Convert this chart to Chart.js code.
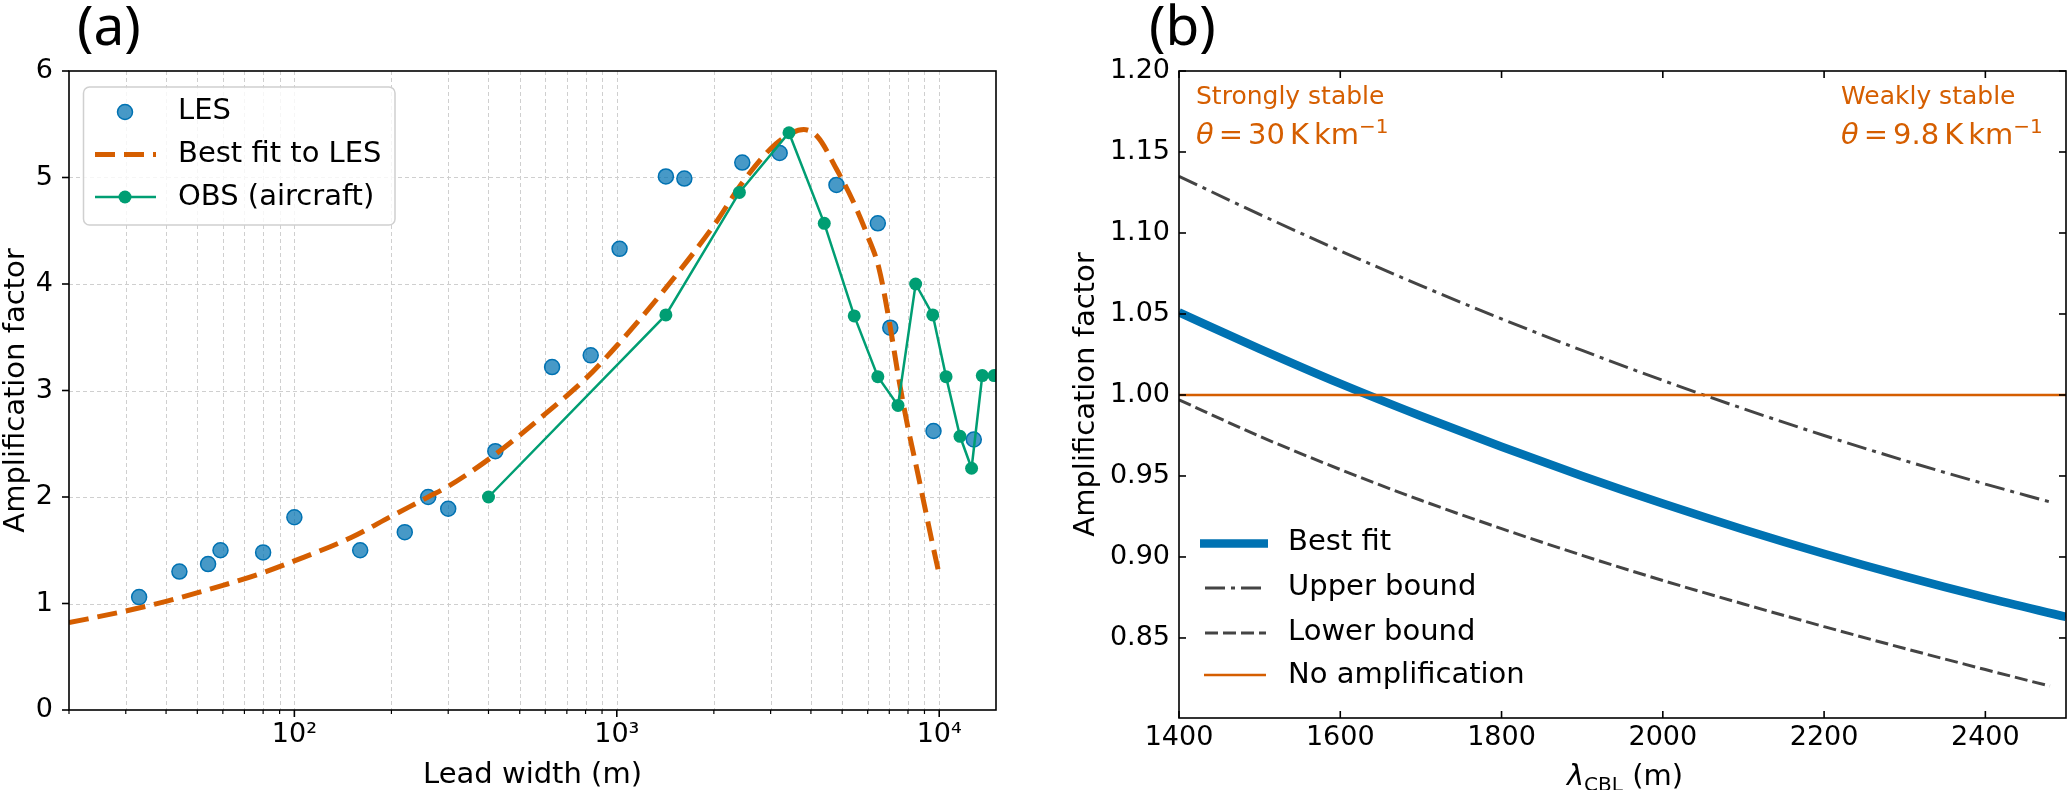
<!DOCTYPE html>
<html>
<head>
<meta charset="utf-8">
<script src="https://cdn.jsdelivr.net/npm/chart.js@4.4.1/dist/chart.umd.min.js"></script>
<style>
  html, body { margin: 0; padding: 0; background: #fff; }
  #wrap { position: relative; width: 2067px; height: 790px; overflow: hidden; background: #fff; }
  canvas { position: absolute; top: 0; }
  #chartA { left: 0; width: 1040px; height: 790px; }
  #chartB { left: 1040px; width: 1027px; height: 790px; }
</style>
</head>
<body>
<div id="wrap">
  <canvas id="chartA" width="1040" height="790"></canvas>
  <canvas id="chartB" width="1027" height="790"></canvas>
</div>
<script>
// ---- panel (a): amplification vs lead width ----
const lesX = [33, 44, 54, 59, 80, 100, 160, 220, 260, 300, 420, 630, 830, 1020, 1420, 1620, 2450, 3200, 4800, 6450, 7050, 9600, 12800];
const lesY = [1.06, 1.30, 1.37, 1.50, 1.48, 1.81, 1.50, 1.67, 2.00, 1.89, 2.43, 3.22, 3.33, 4.33, 5.01, 4.99, 5.14, 5.23, 4.93, 4.57, 3.59, 2.62, 2.54];

const fitX = [20, 30, 40, 60, 80, 100, 150, 200, 260, 300, 420, 600, 800, 1000, 1400, 2000, 2450, 3000, 3500, 3800, 4200, 4800, 5400, 6000, 6500, 7000, 7500, 8000, 8500, 9000, 9500, 10000];
const fitY = [0.82, 0.93, 1.02, 1.17, 1.29, 1.40, 1.62, 1.82, 2.00, 2.10, 2.40, 2.78, 3.11, 3.42, 3.94, 4.55, 4.95, 5.27, 5.42, 5.45, 5.38, 5.08, 4.78, 4.45, 4.15, 3.65, 3.10, 2.65, 2.28, 1.92, 1.58, 1.27];

const obsX = [400, 1420, 2400, 3420, 4400, 5450, 6450, 7450, 8450, 9550, 10500, 11600, 12600, 13600, 14800];
const obsY = [2.00, 3.71, 4.86, 5.42, 4.57, 3.70, 3.13, 2.86, 4.00, 3.71, 3.13, 2.57, 2.27, 3.14, 3.14];

const leadTicks = [20, 30, 40, 50, 60, 70, 80, 90, 100, 200, 300, 400, 500, 600, 700, 800, 900,
                   1000, 2000, 3000, 4000, 5000, 6000, 7000, 8000, 9000, 10000];
const ampTicksA = [0, 1, 2, 3, 4, 5, 6];

// ---- panel (b): amplification vs lambda_CBL ----
const lambdaX = [1400, 1500, 1600, 1700, 1800, 1900, 2000, 2100, 2200, 2300, 2400, 2500];
const bestFit = [1.051, 1.0285, 1.007, 0.987, 0.968, 0.950, 0.933, 0.917, 0.902, 0.888, 0.875, 0.863];
const boundX = [1400, 1500, 1600, 1700, 1800, 1900, 2000, 2100, 2200, 2300, 2400, 2480];
const upperBound = [1.135, 1.1115, 1.089, 1.0675, 1.047, 1.0275, 1.009, 0.9915, 0.975, 0.9595, 0.945, 0.934];
const lowerBound = [0.997, 0.9745, 0.954, 0.935, 0.9175, 0.901, 0.8855, 0.871, 0.857, 0.8435, 0.8305, 0.8203];
const noAmpX = [1400, 2500];
const noAmpY = [1.0, 1.0];

const lambdaTicks = [1400, 1600, 1800, 2000, 2200, 2400];
const ampTicksB = [0.85, 0.90, 0.95, 1.00, 1.05, 1.10, 1.15, 1.20];

const FAMILY = '"DejaVu Sans"';
const BLUE = '#0072b2';
const ORANGE = '#d55e00';
const GREEN = '#009e73';
const GRAY = '#444444';

const SUP = '⁰¹²³⁴⁵⁶⁷⁸⁹';

function pts(xs, ys) {
    return xs.map((x, i) => ({ x: x, y: ys[i] }));
}

function isDecade(v) {
    const e = Math.log10(v);
    return Math.abs(e - Math.round(e)) < 1e-9;
}

function decadeLabel(v) {
    if (!isDecade(v)) return '';
    return '10' + String(Math.round(Math.log10(v))).split('').map(d => SUP[+d]).join('');
}

function seg(ctx, x1, y1, x2, y2) {
    ctx.beginPath();
    ctx.moveTo(x1, y1);
    ctx.lineTo(x2, y2);
    ctx.stroke();
}

function roundBox(ctx, x, y, w, h, r) {
    ctx.beginPath();
    ctx.moveTo(x + r, y);
    ctx.lineTo(x + w - r, y);
    ctx.arcTo(x + w, y, x + w, y + r, r);
    ctx.lineTo(x + w, y + h - r);
    ctx.arcTo(x + w, y + h, x + w - r, y + h, r);
    ctx.lineTo(x + r, y + h);
    ctx.arcTo(x, y + h, x, y + h - r, r);
    ctx.lineTo(x, y + r);
    ctx.arcTo(x, y, x + r, y, r);
    ctx.closePath();
}

// draws a run of text pieces one after another, returns the end x
function pieces(ctx, x, y, list, measureOnly) {
    let cx = x;
    list.forEach(p => {
        if (p.gap) { cx += p.gap; return; }
        ctx.font = p.font;
        if (!measureOnly) ctx.fillText(p.t, cx, y + (p.dy || 0));
        cx += ctx.measureText(p.t).width;
    });
    return cx;
}

function thetaLine(value) {
    return [
        { t: 'θ', font: 'italic 29px ' + FAMILY },
        { gap: 5 },
        { t: '=', font: '29px ' + FAMILY },
        { gap: 5 },
        { t: value, font: '29px ' + FAMILY },
        { gap: 5 },
        { t: 'K', font: '29px ' + FAMILY },
        { gap: 5 },
        { t: 'km', font: '29px ' + FAMILY },
        { t: '−1', font: '20px ' + FAMILY, dy: -11 }
    ];
}

function yTitle(ctx, x, y, text) {
    ctx.save();
    ctx.translate(x, y);
    ctx.rotate(-Math.PI / 2);
    ctx.font = '29px ' + FAMILY;
    ctx.textAlign = 'center';
    ctx.textBaseline = 'alphabetic';
    ctx.fillText(text, 0, 0);
    ctx.restore();
}

const panelA = {
    id: 'panelA',
    beforeDatasetsDraw(chart) {
        const { ctx, chartArea: a, scales: { x, y } } = chart;
        ctx.save();
        ctx.strokeStyle = '#cfcfcf';
        ctx.lineWidth = 1;
        ctx.setLineDash([4, 3]);
        leadTicks.forEach(v => {
            const px = Math.round(x.getPixelForValue(v)) + 0.5;
            if (px > a.left + 2 && px < a.right - 2) seg(ctx, px, a.top, px, a.bottom);
        });
        ampTicksA.forEach(v => {
            const py = Math.round(y.getPixelForValue(v)) + 0.5;
            if (py > a.top + 2 && py < a.bottom - 2) seg(ctx, a.left, py, a.right, py);
        });
        ctx.restore();
    },
    afterDraw(chart) {
        const { ctx, chartArea: a, scales: { x, y } } = chart;
        ctx.save();
        ctx.setLineDash([]);
        ctx.strokeStyle = '#000';
        ctx.lineWidth = 1.6;
        ctx.strokeRect(a.left, a.top, a.right - a.left, a.bottom - a.top);
        leadTicks.forEach(v => {
            const px = x.getPixelForValue(v);
            ctx.lineWidth = isDecade(v) ? 1.6 : 1.2;
            seg(ctx, px, a.bottom, px, a.bottom + (isDecade(v) ? 7 : 4));
        });
        ctx.lineWidth = 1.6;
        ampTicksA.forEach(v => {
            const py = y.getPixelForValue(v);
            seg(ctx, a.left - 7, py, a.left, py);
        });

        // legend
        roundBox(ctx, 83.5, 87, 311.5, 138, 6);
        ctx.fillStyle = 'rgba(255,255,255,0.8)';
        ctx.fill();
        ctx.strokeStyle = '#d0d0d0';
        ctx.lineWidth = 1.5;
        ctx.stroke();

        ctx.beginPath();
        ctx.arc(125, 112, 7.5, 0, Math.PI * 2);
        ctx.fillStyle = 'rgba(0,114,178,0.72)';
        ctx.fill();
        ctx.strokeStyle = BLUE;
        ctx.lineWidth = 1.5;
        ctx.stroke();

        ctx.strokeStyle = ORANGE;
        ctx.lineWidth = 5;
        ctx.setLineDash([20, 9]);
        seg(ctx, 95, 154.5, 156, 154.5);
        ctx.setLineDash([]);

        ctx.strokeStyle = GREEN;
        ctx.lineWidth = 2.5;
        seg(ctx, 95, 197, 156, 197);
        ctx.beginPath();
        ctx.arc(125, 197, 6.5, 0, Math.PI * 2);
        ctx.fillStyle = GREEN;
        ctx.fill();

        ctx.fillStyle = '#000';
        ctx.font = '29px ' + FAMILY;
        ctx.textBaseline = 'middle';
        ctx.textAlign = 'left';
        ctx.fillText('LES', 178, 111);
        ctx.fillText('Best fit to LES', 178, 154);
        ctx.fillText('OBS (aircraft)', 178, 197);

        // titles
        ctx.textBaseline = 'alphabetic';
        ctx.textAlign = 'center';
        ctx.fillText('Lead width (m)', (a.left + a.right) / 2, 783);
        yTitle(ctx, 23.5, (a.top + a.bottom) / 2, 'Amplification factor');

        ctx.textAlign = 'left';
        ctx.font = '55px "Noto Sans"';
        ctx.fillText('(a)', 77, 45);
        ctx.restore();
    }
};

const panelB = {
    id: 'panelB',
    afterDraw(chart) {
        const { ctx, chartArea: a, scales: { x, y } } = chart;
        ctx.save();
        ctx.setLineDash([]);
        ctx.strokeStyle = '#000';
        ctx.lineWidth = 1.6;
        ctx.strokeRect(a.left, a.top, a.right - a.left, a.bottom - a.top);
        lambdaTicks.forEach(v => {
            const px = x.getPixelForValue(v);
            seg(ctx, px, a.bottom, px, a.bottom - 7);
            seg(ctx, px, a.top, px, a.top + 7);
        });
        ampTicksB.forEach(v => {
            const py = y.getPixelForValue(v);
            seg(ctx, a.left, py, a.left + 7, py);
            seg(ctx, a.right, py, a.right - 7, py);
        });

        // legend (no frame)
        ctx.lineWidth = 8.5;
        ctx.strokeStyle = BLUE;
        seg(ctx, 160, 543.5, 228, 543.5);
        ctx.lineWidth = 3;
        ctx.strokeStyle = GRAY;
        ctx.setLineDash([20, 6, 4, 6]);
        seg(ctx, 165, 588, 226, 588);
        ctx.setLineDash([13, 5]);
        seg(ctx, 165, 633, 226, 633);
        ctx.setLineDash([]);
        ctx.lineWidth = 2.5;
        ctx.strokeStyle = ORANGE;
        seg(ctx, 164, 675, 226, 675);

        ctx.fillStyle = '#000';
        ctx.font = '29px ' + FAMILY;
        ctx.textBaseline = 'middle';
        ctx.textAlign = 'left';
        ctx.fillText('Best fit', 248, 542);
        ctx.fillText('Upper bound', 248, 587);
        ctx.fillText('Lower bound', 248, 632);
        ctx.fillText('No amplification', 248, 675);

        // annotations
        ctx.textBaseline = 'alphabetic';
        ctx.fillStyle = ORANGE;
        ctx.font = '25px ' + FAMILY;
        ctx.fillText('Strongly stable', 156, 104);
        ctx.fillText('Weakly stable', 801, 104);
        pieces(ctx, 156, 144, thetaLine('30'));
        pieces(ctx, 801, 144, thetaLine('9.8'));

        // titles
        ctx.fillStyle = '#000';
        const lam = [
            { t: 'λ', font: 'italic 29px ' + FAMILY },
            { t: 'CBL', font: '20px ' + FAMILY, dy: 6 },
            { t: ' (m)', font: '29px ' + FAMILY }
        ];
        const w = pieces(ctx, 0, 0, lam, true);
        pieces(ctx, 585 - w / 2, 785, lam);
        yTitle(ctx, 54, (a.top + a.bottom) / 2, 'Amplification factor');

        ctx.font = '55px "Noto Sans"';
        ctx.fillText('(b)', 109, 45);
        ctx.restore();
    }
};

const tickFont = { family: FAMILY, size: 27, lineHeight: 1.2 };

new Chart(document.getElementById('chartA'), {
    type: 'line',
    data: {
        datasets: [
            {
                label: 'OBS (aircraft)',
                data: pts(obsX, obsY),
                borderColor: GREEN,
                backgroundColor: GREEN,
                borderWidth: 2.5,
                pointRadius: 6.5,
                pointBorderWidth: 0,
                pointBackgroundColor: GREEN,
                order: 0
            },
            {
                label: 'Best fit to LES',
                data: pts(fitX, fitY),
                borderColor: ORANGE,
                borderWidth: 5,
                borderDash: [20, 9],
                pointRadius: 0,
                cubicInterpolationMode: 'monotone',
                order: 1
            },
            {
                label: 'LES',
                data: pts(lesX, lesY),
                showLine: false,
                pointRadius: 7.5,
                pointBorderWidth: 1.5,
                pointBackgroundColor: 'rgba(0,114,178,0.72)',
                pointBorderColor: BLUE,
                borderColor: BLUE,
                order: 2
            }
        ]
    },
    options: {
        responsive: false,
        animation: false,
        devicePixelRatio: 1,
        events: [],
        layout: { padding: { top: 71, right: 44, bottom: 0, left: 0 } },
        plugins: { legend: { display: false }, tooltip: { enabled: false } },
        scales: {
            x: {
                type: 'logarithmic',
                min: 20,
                max: 15000,
                afterBuildTicks: s => { s.ticks = leadTicks.map(v => ({ value: v })); },
                afterFit: s => { s.height = 80; s.paddingLeft = 0; s.paddingRight = 0; },
                grid: { display: false, drawTicks: false },
                border: { display: false },
                ticks: {
                    autoSkip: false, maxRotation: 0, minRotation: 0, padding: 9,
                    color: '#000', font: tickFont,
                    callback: v => decadeLabel(v)
                }
            },
            y: {
                type: 'linear',
                min: 0,
                max: 6,
                afterBuildTicks: s => { s.ticks = ampTicksA.map(v => ({ value: v })); },
                afterFit: s => { s.width = 69; s.paddingTop = 0; s.paddingBottom = 0; },
                grid: { display: false, drawTicks: false },
                border: { display: false },
                ticks: { padding: 16, color: '#000', font: tickFont, callback: v => String(v) }
            }
        }
    },
    plugins: [panelA]
});

new Chart(document.getElementById('chartB'), {
    type: 'line',
    data: {
        datasets: [
            {
                label: 'No amplification',
                data: pts(noAmpX, noAmpY),
                borderColor: ORANGE,
                borderWidth: 2.5,
                pointRadius: 0,
                order: 0
            },
            {
                label: 'Upper bound',
                data: pts(boundX, upperBound),
                borderColor: GRAY,
                borderWidth: 3,
                borderDash: [20, 6, 4, 6],
                pointRadius: 0,
                cubicInterpolationMode: 'monotone',
                order: 1
            },
            {
                label: 'Lower bound',
                data: pts(boundX, lowerBound),
                borderColor: GRAY,
                borderWidth: 3,
                borderDash: [13, 5],
                pointRadius: 0,
                cubicInterpolationMode: 'monotone',
                order: 2
            },
            {
                label: 'Best fit',
                data: pts(lambdaX, bestFit),
                borderColor: BLUE,
                borderWidth: 8.5,
                pointRadius: 0,
                cubicInterpolationMode: 'monotone',
                order: 3
            }
        ]
    },
    options: {
        responsive: false,
        animation: false,
        devicePixelRatio: 1,
        events: [],
        layout: { padding: { top: 71, right: 1, bottom: 0, left: 0 } },
        plugins: { legend: { display: false }, tooltip: { enabled: false } },
        scales: {
            x: {
                type: 'linear',
                min: 1400,
                max: 2500,
                afterBuildTicks: s => { s.ticks = lambdaTicks.map(v => ({ value: v })); },
                afterFit: s => { s.height = 72; s.paddingLeft = 0; s.paddingRight = 0; },
                grid: { display: false, drawTicks: false },
                border: { display: false },
                ticks: {
                    autoSkip: false, maxRotation: 0, minRotation: 0, padding: 4,
                    color: '#000', font: tickFont,
                    callback: v => String(v)
                }
            },
            y: {
                type: 'linear',
                min: 0.8006,
                max: 1.2,
                afterBuildTicks: s => { s.ticks = ampTicksB.map(v => ({ value: v })); },
                afterFit: s => { s.width = 139; s.paddingTop = 0; s.paddingBottom = 0; },
                grid: { display: false, drawTicks: false },
                border: { display: false },
                ticks: { padding: 9, color: '#000', font: tickFont, callback: v => v.toFixed(2) }
            }
        }
    },
    plugins: [panelB]
});
</script>
</body>
</html>
